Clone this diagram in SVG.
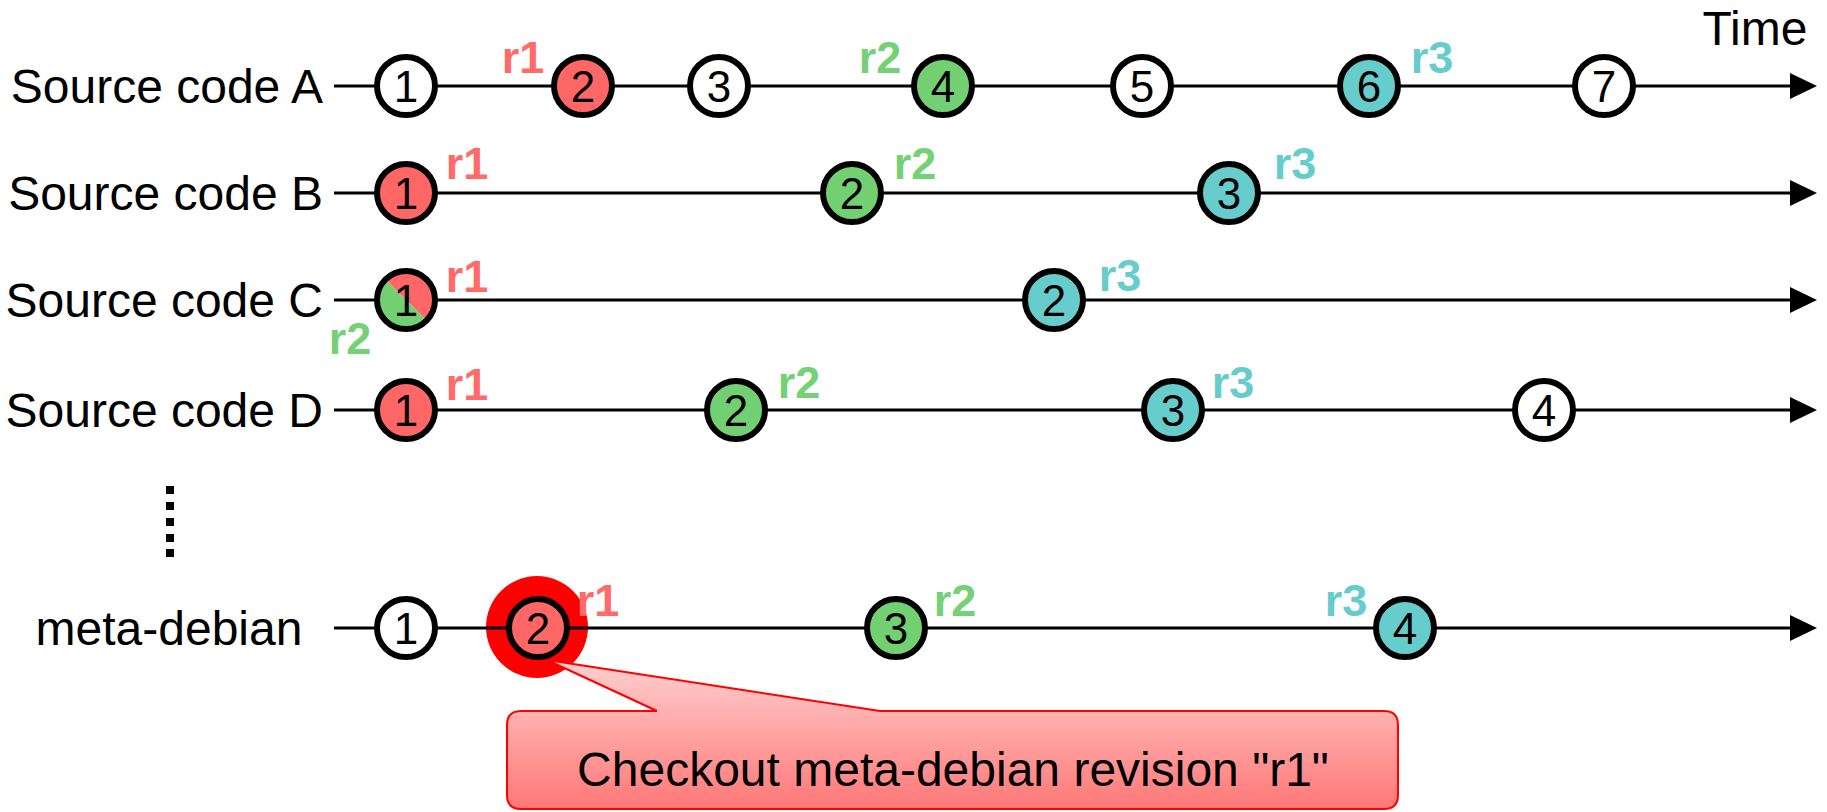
<svg xmlns="http://www.w3.org/2000/svg" width="1827" height="812" viewBox="0 0 1827 812">
<defs>
<style>
.lbl{font-family:"Liberation Sans",Arial,sans-serif;font-size:48px;fill:#000}
.num{font-family:"Liberation Sans",Arial,sans-serif;font-size:44px;fill:#000;text-anchor:middle}
.rv{font-family:"Liberation Sans",Arial,sans-serif;font-size:45px;font-weight:bold;text-anchor:middle}
.r1{fill:#FF6B6B}.r2{fill:#75D175}.r3{fill:#66CCCC}
.c{stroke:#000;stroke-width:6}
.w{fill:#fff}.red{fill:#FF6666}.grn{fill:#72D072}.tel{fill:#66CCCC}
.ln{stroke:#000;stroke-width:3;fill:none}
</style>
<linearGradient id="cg" x1="0" y1="0" x2="0" y2="1">
<stop offset="0" stop-color="#FFD0D0"/>
<stop offset="1" stop-color="#FF7777"/>
</linearGradient>
</defs>
<rect width="1827" height="812" fill="#fff"/>
<g id="connectors">
<line class="ln" x1="334" y1="86" x2="1792" y2="86"/>
<line class="ln" x1="334" y1="193" x2="1792" y2="193"/>
<line class="ln" x1="334" y1="300" x2="1792" y2="300"/>
<line class="ln" x1="334" y1="410" x2="1792" y2="410"/>
<line class="ln" x1="334" y1="628" x2="1792" y2="628"/>
<path d="M1790,73L1817,86L1790,99z"/>
<path d="M1790,180L1817,193L1790,206z"/>
<path d="M1790,287L1817,300L1790,313z"/>
<path d="M1790,397L1817,410L1790,423z"/>
<path d="M1790,615L1817,628L1790,641z"/>
</g>
<g id="labels">
<text class="lbl" x="1755" y="45" text-anchor="middle">Time</text>
<text class="lbl" x="323" y="103" text-anchor="end">Source code A</text>
<text class="lbl" x="323" y="210" text-anchor="end">Source code B</text>
<text class="lbl" x="323" y="317" text-anchor="end">Source code C</text>
<text class="lbl" x="323" y="427" text-anchor="end">Source code D</text>
<text class="lbl" x="169" y="645" text-anchor="middle">meta-debian</text>
</g>
<g id="dots" fill="#000">
<rect x="166" y="486" width="8" height="8"/>
<rect x="166" y="502" width="8" height="8"/>
<rect x="166" y="518" width="8" height="8"/>
<rect x="166" y="534" width="8" height="8"/>
<rect x="166" y="549" width="8" height="8"/>
</g>
<g id="rowA">
<g id="A1"><circle class="c w" cx="406" cy="86" r="29"/><text class="num" x="406" y="102">1</text></g>
<g id="A2"><circle class="c red" cx="583" cy="86" r="29"/><text class="num" x="583" y="102">2</text></g>
<g id="A3"><circle class="c w" cx="719" cy="86" r="29"/><text class="num" x="719" y="102">3</text></g>
<g id="A4"><circle class="c grn" cx="943" cy="86" r="29"/><text class="num" x="943" y="102">4</text></g>
<g id="A5"><circle class="c w" cx="1142" cy="86" r="29"/><text class="num" x="1142" y="102">5</text></g>
<g id="A6"><circle class="c tel" cx="1369" cy="86" r="29"/><text class="num" x="1369" y="102">6</text></g>
<g id="A7"><circle class="c w" cx="1604" cy="86" r="29"/><text class="num" x="1604" y="102">7</text></g>
<text class="rv r1" x="523" y="73">r1</text>
<text class="rv r2" x="880" y="73">r2</text>
<text class="rv r3" x="1432" y="73">r3</text>
</g>
<g id="rowB">
<g id="B1"><circle class="c red" cx="406" cy="193" r="29"/><text class="num" x="406" y="209">1</text></g>
<g id="B2"><circle class="c grn" cx="852" cy="193" r="29"/><text class="num" x="852" y="209">2</text></g>
<g id="B3"><circle class="c tel" cx="1229" cy="193" r="29"/><text class="num" x="1229" y="209">3</text></g>
<text class="rv r1" x="467" y="179">r1</text>
<text class="rv r2" x="915" y="179">r2</text>
<text class="rv r3" x="1295" y="179">r3</text>
</g>
<g id="rowC">
<g id="C1">
<path d="M385.5,279.5A29,29 0 0 1 426.5,320.5z" fill="#FF6666"/>
<path d="M385.5,279.5A29,29 0 0 0 426.5,320.5z" fill="#72D072"/>
<circle class="c" cx="406" cy="300" r="29" fill="none"/>
<text class="num" x="406" y="316">1</text>
</g>
<g id="C2"><circle class="c tel" cx="1054" cy="300" r="29"/><text class="num" x="1054" y="316">2</text></g>
<text class="rv r1" x="467" y="292">r1</text>
<text class="rv r2" x="350" y="354">r2</text>
<text class="rv r3" x="1120" y="291">r3</text>
</g>
<g id="rowD">
<g id="D1"><circle class="c red" cx="406" cy="410" r="29"/><text class="num" x="406" y="426">1</text></g>
<g id="D2"><circle class="c grn" cx="736" cy="410" r="29"/><text class="num" x="736" y="426">2</text></g>
<g id="D3"><circle class="c tel" cx="1173" cy="410" r="29"/><text class="num" x="1173" y="426">3</text></g>
<g id="D4"><circle class="c w" cx="1544" cy="410" r="29"/><text class="num" x="1544" y="426">4</text></g>
<text class="rv r1" x="467" y="400">r1</text>
<text class="rv r2" x="799" y="398">r2</text>
<text class="rv r3" x="1233" y="398">r3</text>
</g>
<g id="rowMeta">
<g id="M1"><circle class="c w" cx="406" cy="628" r="29"/><text class="num" x="406" y="644">1</text></g>
<g id="M2">
<circle cx="537" cy="627" r="51" fill="#FF0000"/>
<line class="ln" x1="486" y1="628" x2="588" y2="628"/>
<circle class="c red" cx="538" cy="628" r="29"/><text class="num" x="538" y="644">2</text>
</g>
<g id="M3"><circle class="c grn" cx="896" cy="628" r="29"/><text class="num" x="896" y="644">3</text></g>
<g id="M4"><circle class="c tel" cx="1405" cy="628" r="29"/><text class="num" x="1405" y="644">4</text></g>
<text class="rv r1" x="598" y="616">r1</text>
<text class="rv r2" x="955" y="616">r2</text>
<text class="rv r3" x="1346" y="616">r3</text>
</g>
<g id="callout">
<path d="M521,711L657,711L547,660L880,711L1384,711Q1398,711 1398,725L1398,795Q1398,809 1384,809L521,809Q507,809 507,795L507,725Q507,711 521,711z" fill="url(#cg)" stroke="#FF0000" stroke-width="2"/>
<text class="lbl" x="953" y="786" text-anchor="middle">Checkout meta-debian revision "r1"</text>
</g>
</svg>
